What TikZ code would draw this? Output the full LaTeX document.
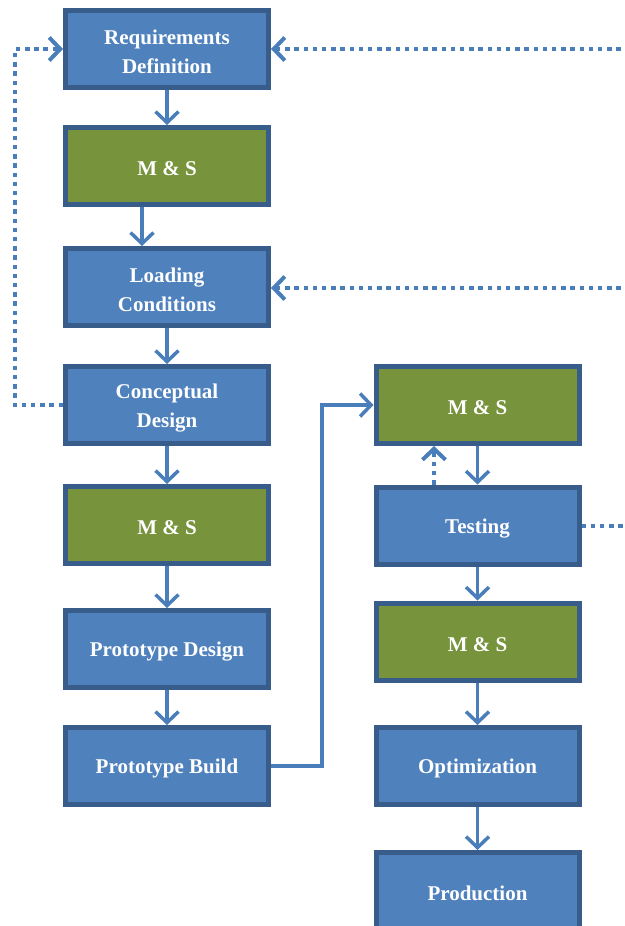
\documentclass[tikz,border=0pt]{standalone}
\usepackage{fontspec}
\setmainfont{Liberation Serif}
\usetikzlibrary{arrows.meta}
\definecolor{boxblue}{HTML}{4F81BD}
\definecolor{boxgreen}{HTML}{77933C}
\definecolor{boxborder}{HTML}{385D8A}
\definecolor{linkblue}{HTML}{4A7EBB}
\newcommand{\toplift}{\rule{0pt}{20pt}}
\begin{document}
\begin{tikzpicture}[x=1pt,y=-1pt,
  stage/.style={draw=boxborder, line width=5pt, fill=boxblue, minimum width=203pt,
    minimum height=77pt, inner sep=0pt, align=center, text=white,
    font=\fontsize{21}{29}\selectfont\bfseries},
  sim/.style={stage, fill=boxgreen},
  flow/.style={draw=linkblue, line width=3.5pt, -{Straight Barb[length=11pt,width=23pt]}},
  fb/.style={draw=linkblue, line width=4pt, dash pattern=on 4.5pt off 4.7pt},
  fbarrow/.style={fb, -{Straight Barb[length=11pt,width=23pt]}}]
\useasboundingbox (0,0) rectangle (624,926);
\clip (0,0) rectangle (624,926);
% left column
\node[stage] (req) at (167,49) {\toplift Requirements\\Definition};
\node[sim]   (ms1) at (167,166) {\toplift M \& S};
\node[stage] (load) at (167,287) {\toplift Loading\\Conditions};
\node[stage] (cd)  at (167,405) {\toplift Conceptual\\Design};
\node[sim]   (ms2) at (167,525) {\toplift M \& S};
\node[stage] (pd)  at (167,649) {\toplift Prototype Design};
\node[stage] (pb)  at (167,766) {\toplift Prototype Build};
% right column
\node[sim]   (ms3) at (477.5,405) {\toplift M \& S};
\node[stage] (test) at (477.5,525.5) {\toplift Testing};
\node[sim]   (ms4) at (477.5,641.5) {\toplift M \& S};
\node[stage] (opt) at (477.5,766) {\toplift Optimization};
\node[stage] (prod) at (477.5,891) {\toplift Production};
% helper coordinates
\coordinate (xa) at (142,0);
\coordinate (xd) at (434,0);
\coordinate (lp1) at (15,405);
\coordinate (lp2) at (15,49);
\coordinate (rt1) at (630,49);
\coordinate (rt2) at (630,288);
\coordinate (rt3) at (630,525.5);
\coordinate (pb1) at (322,766);
\coordinate (pb2) at (322,405);
% solid flow
\draw[flow] (req) -- (ms1);
\draw[flow] (ms1.south -| xa) -- (load.north -| xa);
\draw[flow] (load) -- (cd);
\draw[flow] (cd) -- (ms2);
\draw[flow] (ms2) -- (pd);
\draw[flow] (pd) -- (pb);
\draw[flow] (pb.east) -- (pb1) -- (pb2) -- (ms3.west);
\draw[flow] (ms3) -- (test);
\draw[flow] (test) -- (ms4);
\draw[flow] (ms4) -- (opt);
\draw[flow] (opt) -- (prod);
% feedback (dotted)
\draw[fbarrow] (cd.west) -- (lp1) -- (lp2) -- (req.west);
\draw[fbarrow] (rt1) -- (req.east);
\draw[fbarrow] (rt2) -- (load.east |- rt2);
\draw[fb] (test.east) -- (rt3);
\draw[fbarrow] (test.north -| xd) -- (ms3.south -| xd);
\end{tikzpicture}
\end{document}
